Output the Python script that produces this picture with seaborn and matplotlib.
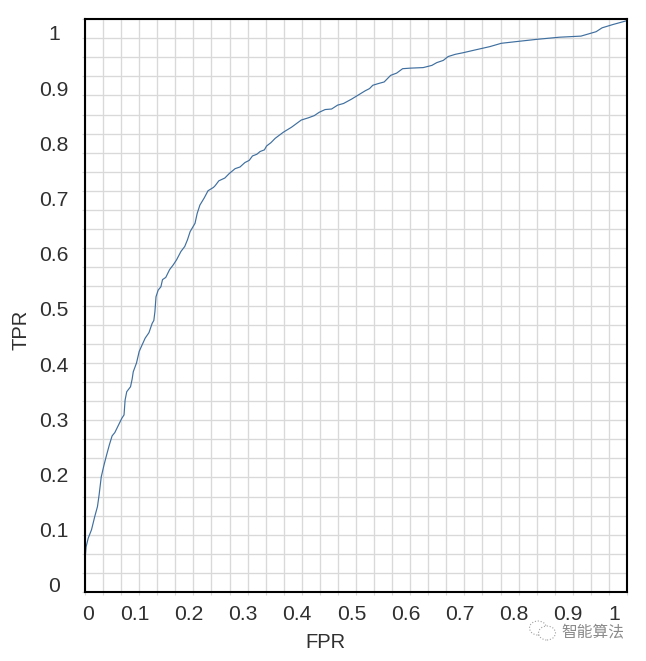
"""
ROC curve, FPR against TPR, with a dense grid and a small watermark.
"""
import numpy as np
import pandas as pd
import matplotlib
matplotlib.use("Agg")
import matplotlib.pyplot as plt
from matplotlib.patches import Ellipse
from matplotlib.transforms import ScaledTranslation
import seaborn as sns

# ---------------------------------------------------------
# DATA
# ---------------------------------------------------------
fpr = [0, 0, .002, .006, .012, .018, .023, .026, .030, .035, .040, .045, .050, .055,
       .060, .063, .068, .072, .074, .077, .084, .087, .089, .095, .100, .105, .111,
       .118, .124, .127, .129, .131, .135, .140, .143, .149, .156, .163, .169, .177,
       .184, .189, .194, .203, .207, .212, .220, .227, .237, .240, .247, .258, .266,
       .277, .286, .295, .303, .309, .317, .323, .331, .335, .343, .351, .366, .381,
       .399, .412, .423, .432, .443, .455, .466, .477, .492, .507, .517, .525, .531,
       .541, .552, .558, .564, .575, .586, .600, .624, .640, .649, .661, .670, .683,
       .698, .720, .747, .768, .795, .832, .875, .915, .943, .954, .974, 1.0]
tpr = [.006, .045, .069, .085, .100, .124, .142, .163, .196, .217, .236, .254, .270, .276,
       .286, .292, .302, .308, .335, .350, .359, .373, .386, .402, .423, .434, .447,
       .457, .474, .479, .495, .522, .534, .540, .553, .557, .571, .580, .589, .604,
       .613, .625, .640, .655, .673, .688, .701, .714, .720, .723, .732, .737, .745,
       .754, .757, .765, .769, .777, .780, .785, .788, .795, .801, .809, .820, .829,
       .842, .846, .850, .856, .861, .862, .869, .872, .880, .889, .895, .899, .905,
       .908, .911, .917, .923, .927, .935, .936, .937, .941, .946, .950, .957, .961,
       .964, .969, .975, .981, .984, .988, .992, .994, 1.002, 1.009, 1.015, 1.022]
tick_values = [0, .1, .2, .3, .4, .5, .6, .7, .8, .9, 1]
tick_labels = ["0", "0.1", "0.2", "0.3", "0.4", "0.5", "0.6", "0.7", "0.8", "0.9", "1"]

df = pd.DataFrame({"FPR": fpr, "TPR": tpr})

W, H = 646, 661
GRID = "#d9d9d9"
TEXT = "#303030"

sns.set_style("white")
plt.rcParams["font.family"] = ["Liberation Sans", "DejaVu Sans"]

fig = plt.figure(figsize=(W / 100, H / 100), dpi=100)
ax = fig.add_axes([85 / W, 1 - 592 / H, 542 / W, 573 / H])

sns.lineplot(data=df, x="FPR", y="TPR", ax=ax, estimator=None, sort=False,
             color="#3f6f9f", linewidth=0.85, zorder=3)

xlim = (0, 1)
ylim = (-0.0127, 1.025)
ax.set_xlim(xlim)
ax.set_ylim(ylim)

# ---------------------------------------------------------
# GRID (30 cells each way, not lined up with the labels)
# ---------------------------------------------------------
ax.xaxis.remove_overlapping_locs = False
ax.yaxis.remove_overlapping_locs = False
ax.set_xticks(np.linspace(*xlim, 31), minor=True)
ax.set_yticks(np.linspace(*ylim, 31), minor=True)
ax.set_xticks(tick_values, tick_labels)
ax.set_yticks(tick_values, tick_labels)
ax.grid(which="minor", color=GRID, linewidth=0.95)
ax.grid(which="major", visible=False)
ax.set_axisbelow(True)
ax.tick_params(which="minor", length=2.4, width=0.8, color=GRID, left=True, bottom=True)
ax.tick_params(axis="x", which="major", length=0, pad=9, labelsize=15.2, labelcolor=TEXT)
ax.tick_params(axis="y", which="major", length=0, pad=22.3, labelsize=15.2, labelcolor=TEXT)

# labels sit off the grid in the reference
for label in ax.get_yticklabels():
    label.set_ha("center")
for label, txt in zip(ax.get_xticklabels(), tick_labels):
    dx = {"0": 3, "1": -13}.get(txt, -4.6)
    label.set_transform(label.get_transform() + ScaledTranslation(dx / 100, 0, fig.dpi_scale_trans))

for side in ax.spines.values():
    side.set_visible(True)
    side.set_color("black")
    side.set_linewidth(1.5)
    side.set_zorder(5)

ax.set_xlabel("")
ax.set_ylabel("")
fig.text(325 / W, 1 - 643 / H, "FPR", ha="center", va="center", fontsize=14.5, color=TEXT)
fig.text(21 / W, 1 - 330 / H, "TPR", ha="center", va="center", rotation=90, fontsize=14.5, color=TEXT)

# ---------------------------------------------------------
# WATERMARK
# ---------------------------------------------------------
for cx, cy, w, h in [(538, 628, 17, 14), (547, 633, 17, 14)]:
    fig.add_artist(Ellipse((cx / W, 1 - cy / H), w / W, h / H, transform=fig.transFigure,
                           facecolor="white", edgecolor="#a0a0a0", linewidth=0.8, linestyle=":"))
fig.text(593 / W, 1 - 632 / H, "智能算法", ha="center", va="center", fontsize=11.3,
         color="#8a8a8a", family=["Noto Sans CJK SC", "DejaVu Sans"])

fig.savefig("out.png", dpi=100)
